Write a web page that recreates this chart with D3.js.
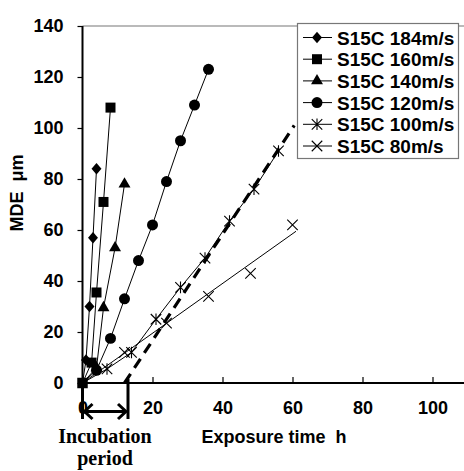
<!DOCTYPE html>
<html>
<head>
<meta charset="utf-8">
<script src="https://cdn.jsdelivr.net/npm/d3@7"></script>
<style>
  body { margin: 0; background: #fff; }
  svg { display: block; }
</style>
</head>
<body>
<div id="container"></div>
<script>
const series = ["S15C 184m/s", "S15C 160m/s", "S15C 140m/s", "S15C 120m/s", "S15C 100m/s", "S15C 80m/s"]

const s184 = [[0, 0], [1, 9], [2, 30], [3, 57], [4, 84]]
const s160 = [[0, 0], [2.6, 8], [4, 35.5], [6, 71], [8, 108]]
const s140 = [[0, 0], [4, 6], [6, 29.5], [9.3, 53], [12, 78]]
const s120 = [[0, 0], [4, 5], [8, 17.5], [12, 33], [16, 48], [20, 62], [24, 79], [28, 95], [32, 109], [36, 123]]
const s100 = [[0, 0], [7, 5.5], [14, 12], [21, 25], [28, 37.5], [35, 49], [42, 63.5], [49, 76], [56, 91]]
const s80 = [[0, 0], [12, 12], [24, 23.5], [36, 34], [48, 43], [60, 62]]
const fit80 = [[0, 0], [61, 59.5]]
const dashedLine = [[12, 0], [60.5, 101]]
const incubation = [0, 13]

const xTicks = [0, 20, 40, 60, 80, 100]
const yTicks = [0, 20, 40, 60, 80, 100, 120, 140]

const width = 464
const height = 471

const x = d3.scaleLinear().domain([0, 110]).range([82.5, 467.5])
const y = d3.scaleLinear().domain([0, 140]).range([383, 26])

// custom marker shapes
const diamond = {
    draw(ctx, size) {
        const r = Math.sqrt(size) / 2
        ctx.moveTo(0, -r * 1.1); ctx.lineTo(r * 0.95, 0); ctx.lineTo(0, r * 1.1); ctx.lineTo(-r * 0.95, 0); ctx.closePath()
    }
}
const cross = {
    draw(ctx, size) {
        const r = Math.sqrt(size) / 2
        ctx.moveTo(-r, -r); ctx.lineTo(r, r); ctx.moveTo(r, -r); ctx.lineTo(-r, r)
    }
}
const star = {
    draw(ctx, size) {
        const r = Math.sqrt(size) / 2
        ctx.moveTo(-r, -r); ctx.lineTo(r, r); ctx.moveTo(r, -r); ctx.lineTo(-r, r)
        ctx.moveTo(0, -r * 1.1); ctx.lineTo(0, r * 1.1)
    }
}

const defs = [
    {data: s184, type: diamond, size: 110, filled: true},
    {data: s160, type: d3.symbolSquare, size: 100, filled: true},
    {data: s140, type: d3.symbolTriangle, size: 62, filled: true},
    {data: s120, type: d3.symbolCircle, size: 95, filled: true},
    {data: s100, type: star, size: 110, filled: false},
    {data: s80, type: cross, size: 110, filled: false, line: fit80}
]

const svg = d3.create("svg")
    .attr("width", width)
    .attr("height", height)
    .style("font-family", "'Liberation Sans', Arial, sans-serif")

// top frame line
svg.append("line")
    .attr("x1", x(0)).attr("x2", width)
    .attr("y1", y(140)).attr("y2", y(140))
    .attr("stroke", "#777").attr("stroke-width", 1.2)

const line = d3.line().x(d => x(d[0])).y(d => y(d[1]))

defs.forEach(s => {
    svg.append("path")
        .attr("d", line(s.line || s.data))
        .attr("fill", "none")
        .attr("stroke", "#000")
        .attr("stroke-width", 1)
})

// dashed trend line
svg.append("path")
    .attr("d", line(dashedLine))
    .attr("fill", "none")
    .attr("stroke", "#000")
    .attr("stroke-width", 3.2)
    .attr("stroke-dasharray", "11,7")

defs.forEach(s => {
    svg.append("g").selectAll("path")
        .data(s.data.slice(1))
        .enter().append("path")
        .attr("transform", d => `translate(${x(d[0])},${y(d[1])})`)
        .attr("d", d3.symbol().type(s.type).size(s.size))
        .attr("fill", s.filled ? "#000" : "none")
        .attr("stroke", "#000")
        .attr("stroke-width", s.filled ? 0 : 1.1)
})

// origin square
svg.append("path")
    .attr("transform", `translate(${x(0)},${y(0)})`)
    .attr("d", d3.symbol().type(d3.symbolSquare).size(110))
    .attr("fill", "#000")

// axes
const yAxis = svg.append("g")
    .attr("transform", `translate(${x(0)},0)`)
    .call(d3.axisLeft(y).tickValues(yTicks).tickSize(5).tickPadding(14))
const xAxis = svg.append("g")
    .attr("transform", `translate(0,${y(0)})`)
    .call(d3.axisBottom(x).tickValues(xTicks).tickSize(-6).tickPadding(18))

;[xAxis, yAxis].forEach(a => {
    a.select(".domain").attr("stroke-width", 2)
    a.selectAll(".tick line").attr("stroke-width", 1.2)
    a.selectAll("text")
        .attr("font-size", 18)
        .attr("font-weight", "bold")
        .attr("font-family", "'Liberation Sans', Arial, sans-serif")
})
xAxis.select(".domain").attr("d", `M${x(0)},0H${width}`)
yAxis.select(".domain").attr("d", `M0,${y(0)}V${y(140)}`)

// axis titles
svg.append("text")
    .attr("x", 274).attr("y", 443)
    .attr("text-anchor", "middle")
    .attr("font-size", 18).attr("font-weight", "bold")
    .attr("xml:space", "preserve")
    .text("Exposure time  h")

svg.append("text")
    .attr("transform", `translate(23,193) rotate(-90)`)
    .attr("text-anchor", "middle")
    .attr("font-size", 18).attr("font-weight", "bold")
    .attr("xml:space", "preserve")
    .text("MDE  μm")

// incubation period marker
const inc = svg.append("g").attr("stroke", "#000").attr("stroke-width", 3).attr("fill", "none")
inc.append("line").attr("x1", x(incubation[0])).attr("x2", x(incubation[0])).attr("y1", y(0) - 1).attr("y2", 419)
inc.append("line").attr("x1", x(incubation[1])).attr("x2", x(incubation[1])).attr("y1", y(0) - 4).attr("y2", 419)
inc.append("line").attr("x1", x(incubation[0]) + 2).attr("x2", x(incubation[1]) - 2).attr("y1", 411.5).attr("y2", 411.5)
inc.append("path").attr("d", `M${x(incubation[0]) + 10},404L${x(incubation[0]) + 2},411.5L${x(incubation[0]) + 10},419`)
inc.append("path").attr("d", `M${x(incubation[1]) - 10},404L${x(incubation[1]) - 2},411.5L${x(incubation[1]) - 10},419`)

svg.append("text")
    .attr("x", 105).attr("y", 443)
    .attr("text-anchor", "middle")
    .attr("font-family", "'Liberation Serif', 'Times New Roman', serif")
    .attr("font-size", 20).attr("font-weight", "bold")
    .text("Incubation")
svg.append("text")
    .attr("x", 105).attr("y", 465)
    .attr("text-anchor", "middle")
    .attr("font-family", "'Liberation Serif', 'Times New Roman', serif")
    .attr("font-size", 20).attr("font-weight", "bold")
    .text("period")

// legend
const legend = svg.append("g").attr("id", "legend")
legend.append("rect")
    .attr("x", 297.5).attr("y", 23.5)
    .attr("width", 161).attr("height", 135)
    .attr("fill", "#fff")
    .attr("stroke", "#777").attr("stroke-width", 1.2)

defs.forEach((s, i) => {
    const g = legend.append("g").attr("transform", `translate(0,${37.5 + i * 21.7})`)
    g.append("line").attr("x1", 303).attr("x2", 332).attr("stroke", "#000").attr("stroke-width", 1)
    g.append("path")
        .attr("transform", "translate(317,0)")
        .attr("d", d3.symbol().type(s.type).size(s.size))
        .attr("fill", s.filled ? "#000" : "none")
        .attr("stroke", "#000")
        .attr("stroke-width", s.filled ? 0 : 1.1)
    g.append("text")
        .attr("x", 337).attr("y", 7)
        .attr("font-size", 19).attr("font-weight", "bold")
        .text(series[i])
})

document.querySelector("#container").appendChild(svg.node())
</script>
</body>
</html>
